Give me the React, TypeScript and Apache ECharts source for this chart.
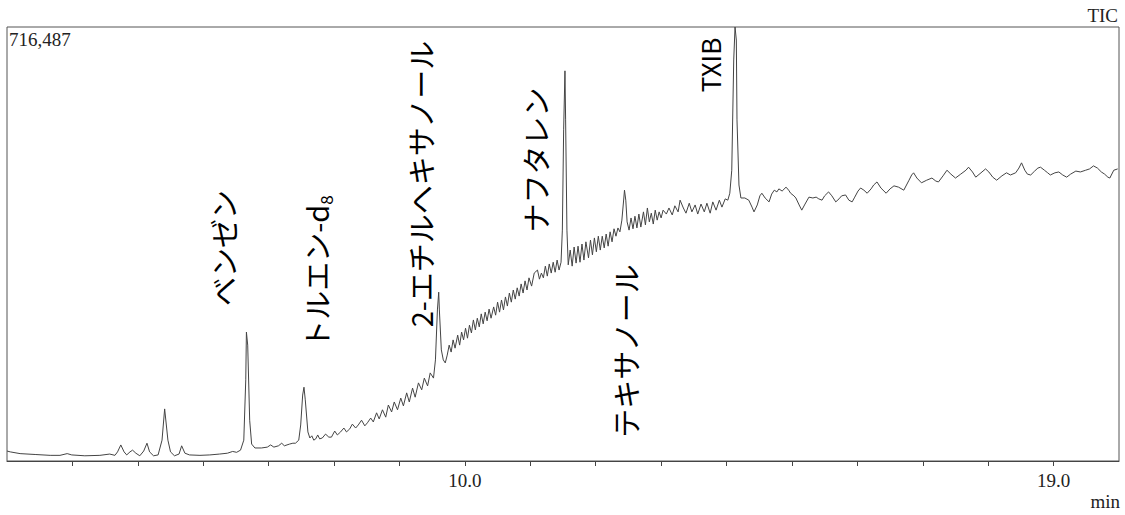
import React, { useEffect, useRef } from "react";
import * as echarts from "echarts";

// Retention time (min)
const retentionTime = [
  3.00, 3.05, 3.20, 3.43, 3.66, 3.81, 3.92, 3.99, 4.19, 4.42, 4.57, 4.65, 4.69, 4.74, 4.79, 4.83, 4.88, 4.92, 4.97, 5.03,
  5.09, 5.14, 5.18, 5.24, 5.31, 5.37, 5.41, 5.46, 5.50, 5.56, 5.63, 5.67, 5.72, 5.79, 5.95, 6.10, 6.25, 6.37, 6.45, 6.51,
  6.57, 6.62, 6.65, 6.66, 6.68, 6.71, 6.74, 6.79, 6.89, 6.98, 7.03, 7.08, 7.15, 7.20, 7.24, 7.32, 7.37, 7.41, 7.46, 7.49,
  7.52, 7.54, 7.56, 7.60, 7.63, 7.66, 7.69, 7.72, 7.75, 7.78, 7.82, 7.87, 7.92, 7.96, 8.01, 8.05, 8.10, 8.15, 8.19, 8.24,
  8.28, 8.33, 8.37, 8.42, 8.47, 8.51, 8.56, 8.60, 8.65, 8.69, 8.74, 8.79, 8.83, 8.88, 8.92, 8.97, 9.02, 9.06, 9.11, 9.15,
  9.20, 9.24, 9.29, 9.34, 9.38, 9.43, 9.47, 9.52, 9.55, 9.58, 9.60, 9.61, 9.64, 9.67, 9.70, 9.73, 9.76, 9.79, 9.82, 9.85,
  9.89, 9.92, 9.95, 9.98, 10.01, 10.04, 10.07, 10.10, 10.13, 10.16, 10.19, 10.22, 10.25, 10.28, 10.31, 10.34, 10.37, 10.40, 10.44, 10.47,
  10.50, 10.53, 10.56, 10.59, 10.62, 10.65, 10.68, 10.71, 10.74, 10.77, 10.80, 10.83, 10.86, 10.89, 10.92, 10.95, 10.98, 11.02, 11.06, 11.11,
  11.14, 11.17, 11.20, 11.23, 11.26, 11.29, 11.32, 11.35, 11.38, 11.41, 11.44, 11.47, 11.49, 11.51, 11.53, 11.54, 11.56, 11.58, 11.61, 11.64,
  11.67, 11.70, 11.73, 11.76, 11.79, 11.82, 11.85, 11.89, 11.92, 11.95, 11.98, 12.01, 12.04, 12.07, 12.10, 12.13, 12.16, 12.19, 12.22, 12.25,
  12.28, 12.31, 12.34, 12.37, 12.40, 12.43, 12.44, 12.46, 12.48, 12.51, 12.54, 12.57, 12.60, 12.63, 12.66, 12.69, 12.73, 12.76, 12.79, 12.82,
  12.85, 12.88, 12.91, 12.94, 12.97, 13.00, 13.03, 13.08, 13.12, 13.17, 13.21, 13.26, 13.29, 13.34, 13.38, 13.43, 13.47, 13.52, 13.56, 13.61,
  13.66, 13.70, 13.75, 13.79, 13.84, 13.89, 13.93, 13.98, 14.02, 14.05, 14.08, 14.11, 14.13, 14.15, 14.16, 14.19, 14.22, 14.28, 14.34, 14.39,
  14.42, 14.47, 14.51, 14.54, 14.59, 14.65, 14.69, 14.73, 14.77, 14.80, 14.85, 14.91, 14.95, 14.98, 15.03, 15.06, 15.11, 15.15, 15.20, 15.26,
  15.32, 15.37, 15.41, 15.46, 15.50, 15.56, 15.61, 15.67, 15.72, 15.76, 15.82, 15.87, 15.92, 15.96, 16.01, 16.05, 16.10, 16.15, 16.21, 16.25,
  16.30, 16.36, 16.44, 16.50, 16.56, 16.63, 16.71, 16.79, 16.83, 16.86, 16.91, 16.98, 17.06, 17.14, 17.20, 17.24, 17.31, 17.37, 17.43, 17.50,
  17.58, 17.66, 17.70, 17.76, 17.81, 17.89, 17.96, 18.01, 18.07, 18.13, 18.21, 18.28, 18.34, 18.42, 18.47, 18.51, 18.56, 18.60, 18.65, 18.71,
  18.76, 18.80, 18.86, 18.91, 18.95, 19.02, 19.08, 19.14, 19.20, 19.26, 19.34, 19.41, 19.49, 19.55, 19.61, 19.67, 19.73, 19.78, 19.83, 19.86,
  19.92, 19.98,
];

// Intensity (% of full scale 716,487)
const intensity = [
  2.3, 2.1, 1.7, 1.5, 1.3, 1.3, 1.7, 1.4, 1.2, 1.3, 1.6, 1.3, 2.1, 3.7, 2.1, 1.4, 2.1, 2.5, 1.8, 1.2,
  2.3, 4.1, 2.1, 1.2, 1.4, 4.8, 12.0, 4.8, 2.1, 1.2, 1.6, 3.5, 1.8, 1.4, 1.3, 1.4, 1.6, 1.8, 2.2, 2.0,
  2.5, 4.8, 18.7, 29.7, 26.7, 9.4, 3.9, 3.0, 3.0, 3.2, 3.7, 3.2, 3.5, 4.1, 3.5, 3.9, 4.1, 4.1, 4.8, 8.3,
  15.2, 17.0, 14.1, 6.7, 5.3, 5.8, 4.8, 5.1, 6.0, 5.1, 5.3, 6.2, 5.5, 5.5, 6.9, 6.0, 6.7, 7.6, 6.7, 7.4,
  8.5, 7.6, 8.3, 9.4, 8.1, 8.8, 9.9, 9.0, 11.1, 9.7, 11.8, 10.1, 12.9, 11.3, 13.6, 11.8, 14.5, 12.7, 15.7, 13.6,
  16.8, 14.7, 18.0, 16.4, 19.1, 17.3, 20.3, 19.1, 23.3, 34.8, 38.9, 34.8, 25.6, 23.3, 22.6, 24.4, 26.7, 25.1, 27.9, 26.0,
  29.0, 26.7, 29.7, 27.9, 30.6, 28.3, 31.3, 29.5, 32.5, 30.2, 32.9, 30.9, 33.9, 31.6, 34.3, 32.3, 35.0, 32.9, 35.5, 33.6,
  36.6, 34.3, 37.1, 34.8, 37.8, 35.7, 38.7, 36.6, 39.4, 37.3, 39.9, 38.0, 40.8, 38.7, 41.5, 39.4, 42.2, 40.3, 43.3, 44.0,
  41.9, 43.3, 42.2, 44.9, 42.6, 45.4, 43.3, 45.8, 43.5, 46.3, 44.0, 45.8, 53.2, 76.3, 89.9, 78.6, 53.2, 45.2, 48.6, 44.9,
  49.3, 45.6, 49.5, 45.8, 50.0, 46.3, 50.5, 46.8, 50.9, 47.5, 51.4, 48.2, 51.8, 48.6, 51.8, 49.1, 52.3, 49.5, 52.8, 50.5,
  53.5, 51.8, 53.7, 52.8, 55.5, 60.6, 62.4, 60.1, 55.1, 53.2, 56.0, 53.5, 56.4, 53.7, 56.9, 53.9, 57.4, 54.4, 58.3, 55.1,
  57.1, 54.6, 57.8, 55.5, 57.4, 56.0, 57.8, 56.9, 58.3, 56.7, 58.8, 57.4, 60.1, 58.3, 57.1, 59.4, 57.4, 59.0, 56.9, 59.2,
  57.4, 59.4, 57.1, 59.7, 57.8, 60.1, 58.5, 60.4, 60.1, 61.7, 67.0, 92.4, 100.0, 97.0, 78.6, 63.6, 60.6, 60.6, 60.1, 58.5,
  57.4, 59.0, 61.1, 61.7, 60.6, 59.7, 61.5, 62.4, 62.0, 62.7, 62.2, 63.1, 62.4, 61.7, 61.1, 60.6, 59.0, 57.8, 59.2, 60.8,
  60.6, 60.8, 60.4, 60.1, 61.1, 62.0, 61.1, 59.7, 60.4, 61.1, 61.3, 60.1, 59.7, 60.8, 62.2, 62.9, 62.4, 61.7, 62.7, 63.6,
  64.3, 62.9, 61.7, 62.7, 63.4, 63.1, 62.4, 64.7, 65.9, 66.4, 65.2, 64.1, 64.7, 65.2, 64.5, 64.3, 65.7, 67.0, 66.1, 65.2,
  66.1, 67.0, 67.7, 66.6, 65.4, 66.4, 67.3, 66.6, 65.4, 64.7, 65.7, 66.4, 65.9, 66.4, 67.5, 68.7, 67.0, 66.1, 65.9, 66.8,
  67.5, 67.7, 67.0, 66.4, 65.9, 66.4, 66.6, 65.9, 65.4, 66.1, 66.8, 66.6, 67.0, 67.3, 68.0, 67.5, 66.6, 66.1, 65.4, 65.2,
  67.0, 67.3,
];

const xTickLabels: Record<number, string> = { 10: "10.0", 19: "19.0" };
const peakNames = ["ベンゼン", "トルエン-d", "2-エチルヘキサノール", "ナフタレン", "テキサノール", "TXIB"];
const fullScaleLabel = "716,487";
const traceName = "TIC";
const unitLabel = "min";

export default function App() {
  const ref = useRef<HTMLDivElement>(null);
  useEffect(() => {
    if (!ref.current) return;
    const chart = echarts.init(ref.current, undefined, { renderer: "svg" });
    const data = retentionTime.map((t, i) => [t, intensity[i]]);
    const jp = "'Noto Sans CJK JP', 'Noto Sans', sans-serif";
    const serif = "'Liberation Serif', 'DejaVu Serif', serif";
    const rot = Math.PI / 2;
    const labelStyle = (text: string) => ({
      text,
      fill: "#000",
      font: `29px ${jp}`,
      align: "center",
      verticalAlign: "middle",
    });
    chart.setOption({
      animation: false,
      backgroundColor: "#fff",
      grid: {
        left: 7,
        right: 6,
        top: 27,
        bottom: 54,
        show: true,
        borderColor: "#555",
        borderWidth: 1,
      },
      xAxis: {
        type: "value",
        min: 3,
        max: 20,
        interval: 1,
        axisLine: { show: true, lineStyle: { color: "#444", width: 1 } },
        axisTick: { show: true, length: 5, lineStyle: { color: "#444" } },
        splitLine: { show: false },
        axisLabel: {
          formatter: (v: number) => xTickLabels[Math.round(v)] ?? "",
          color: "#222",
          fontFamily: serif,
          fontSize: 19,
          margin: 10,
          showMinLabel: false,
          showMaxLabel: false,
        },
      },
      yAxis: {
        type: "value",
        min: 0,
        max: 100,
        show: false,
        splitLine: { show: false },
      },
      series: [
        {
          type: "line",
          data,
          symbol: "none",
          lineStyle: { color: "#444", width: 1 },
          silent: true,
        },
      ],
      graphic: [
        { type: "text", left: 9, top: 30, style: { text: fullScaleLabel, fill: "#222", font: `19px ${serif}` } },
        { type: "text", right: 7, top: 6, style: { text: traceName, fill: "#222", font: `19px ${serif}` } },
        { type: "text", right: 5, top: 492, style: { text: unitLabel, fill: "#222", font: `19px ${serif}` } },
        { type: "text", x: 223, y: 248, rotation: rot, style: labelStyle(peakNames[0]) },
        {
          type: "text",
          x: 316,
          y: 272,
          rotation: rot,
          style: {
            text: `{a|${peakNames[1]}}{s|8}`,
            align: "center",
            verticalAlign: "middle",
            rich: {
              a: { fontSize: 29, fontFamily: jp, fill: "#000", lineHeight: 36 },
              s: { fontSize: 17, fontFamily: jp, fill: "#000", verticalAlign: "bottom", lineHeight: 36 },
            },
          },
        },
        { type: "text", x: 420, y: 184, rotation: rot, style: labelStyle(peakNames[2]) },
        { type: "text", x: 535, y: 160, rotation: rot, style: labelStyle(peakNames[3]) },
        { type: "text", x: 625, y: 351, rotation: rot, style: labelStyle(peakNames[4]) },
        {
          type: "text",
          x: 709,
          y: 65,
          rotation: rot,
          style: { text: peakNames[5], fill: "#000", font: `26px ${jp}`, align: "center", verticalAlign: "middle" },
        },
      ],
    });
    return () => chart.dispose();
  }, []);
  return (
    <div
      ref={ref}
      style={{ position: "fixed", left: 0, top: 0, width: 1125, height: 515, background: "#fff" }}
    />
  );
}
